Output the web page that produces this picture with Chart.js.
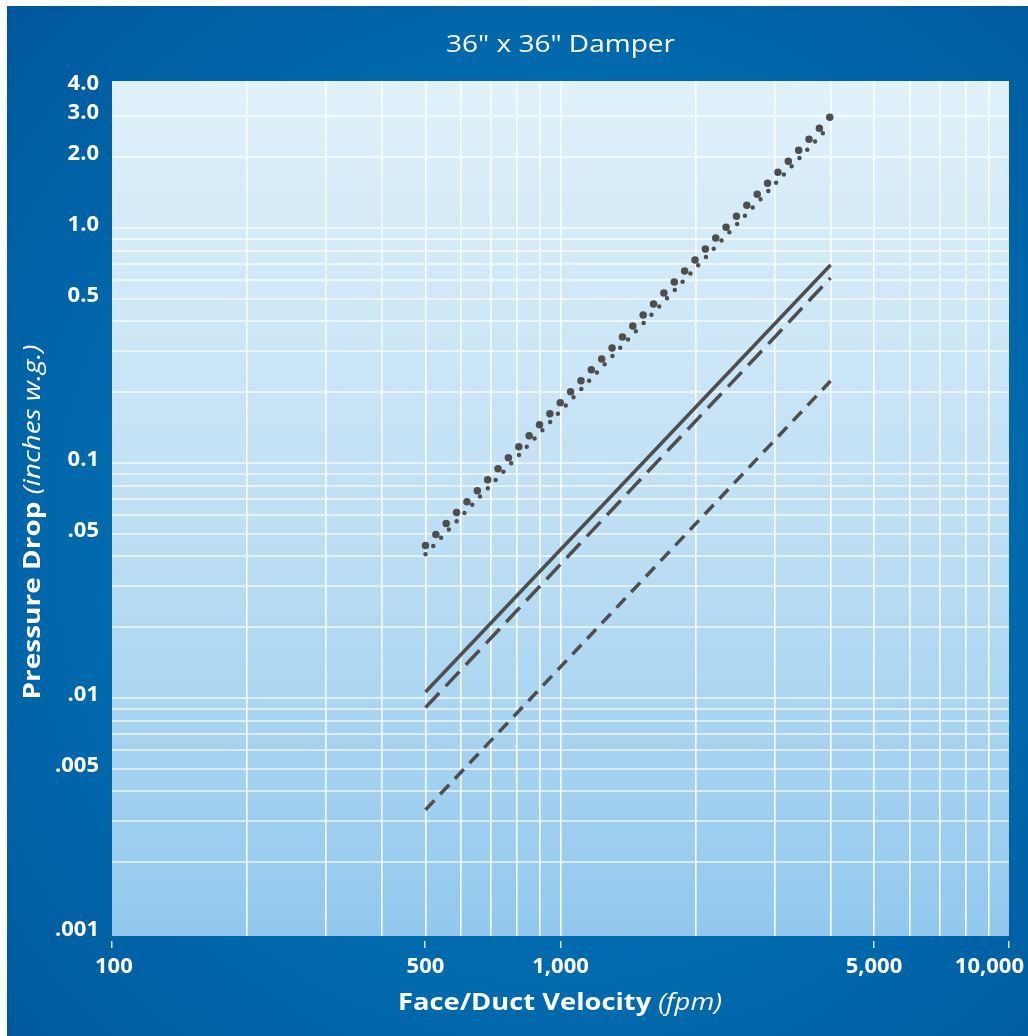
<!DOCTYPE html>
<html>
<head>
<meta charset="utf-8">
<title>36" x 36" Damper</title>
<script src="https://cdn.jsdelivr.net/npm/chart.js@4.4.0/dist/chart.umd.min.js"></script>
<style>
  html, body { margin: 0; padding: 0; background: #fff; }
  #wrap { width: 1028px; height: 1036px; }
</style>
</head>
<body>
<div id="wrap"><canvas id="graph" width="1028" height="1036"></canvas></div>
<script>
// values (fpm vs inches w.g.)
const velocity = [500, 4000];
const bigDotDrop = [0.0445, 2.98];
const smallDotDrop = [0.0409, 2.74];
const solidDrop = [0.0106, 0.696];
const longDashDrop = [0.0091, 0.613];
const shortDashDrop = [0.00334, 0.223];

// axis ticks / gridlines
const xGridValues = [200, 300, 400, 500, 600, 700, 800, 900,
  1000, 2000, 3000, 4000, 5000, 6000, 7000, 8000, 9000];
const xLabelValues = [100, 500, 1000, 5000, 10000];
const xLabelText = ['100', '500', '1,000', '5,000', '10,000'];

const yGridValues = [0.002, 0.003, 0.004, 0.005, 0.006, 0.007, 0.008, 0.009,
  0.01, 0.02, 0.03, 0.04, 0.05, 0.06, 0.07, 0.08, 0.09,
  0.1, 0.2, 0.3, 0.4, 0.5, 0.6, 0.7, 0.8, 0.9,
  1, 2, 3];
const yLabelValues = [4, 3, 2, 1, 0.5, 0.1, 0.05, 0.01, 0.005, 0.001];
const yLabelText = ['4.0', '3.0', '2.0', '1.0', '0.5', '0.1', '.05', '.01', '.005', '.001'];

const FONT = '"Open Sans", Lato, sans-serif';
const lineGrey = '#4e4e4e';

function toXY(ys) {
  return velocity.map((v, i) => ({ x: v, y: ys[i] }));
}

// draw text centred on cx, squeezed/stretched to a target width
function fitText(ctx, parts, cx, cy, width) {
  let total = 0;
  parts.forEach(p => { ctx.font = p.font; p.w = ctx.measureText(p.text).width; total += p.w; });
  const k = width / total;
  ctx.save();
  ctx.translate(cx - width / 2, cy);
  ctx.scale(k, 1);
  let sx = 0;
  parts.forEach(p => { ctx.font = p.font; ctx.fillText(p.text, sx, 0); sx += p.w; });
  ctx.restore();
}

const backdrop = {
  id: 'backdrop',
  beforeDraw(chart) {
    const { ctx, chartArea: a } = chart;
    ctx.save();
    ctx.fillStyle = '#fff';
    ctx.fillRect(0, 0, chart.width, chart.height);

    const g = ctx.createRadialGradient(560, 540, 0, 560, 540, 800);
    g.addColorStop(0, '#0a78bd');
    g.addColorStop(0.62, '#0068ab');
    g.addColorStop(1, '#00559a');
    ctx.fillStyle = g;
    ctx.fillRect(7, 6, chart.width - 7, chart.height - 6);

    const pg = ctx.createLinearGradient(0, a.top, 0, a.bottom);
    pg.addColorStop(0, '#e0f1fa');
    pg.addColorStop(0.5, '#c0e0f5');
    pg.addColorStop(1, '#92c8ed');
    ctx.fillStyle = pg;
    ctx.fillRect(a.left, a.top, a.right - a.left, a.bottom - a.top);
    ctx.restore();
  }
};

const labels = {
  id: 'labels',
  afterDraw(chart) {
    const { ctx, chartArea: a, scales: { x, y } } = chart;
    ctx.save();
    ctx.fillStyle = '#fff';
    ctx.textAlign = 'left';
    ctx.textBaseline = 'middle';

    // title
    fitText(ctx, [{ text: '36" x 36" Damper', font: '23px ' + FONT }], 560.5, 45, 229);

    // y tick labels
    ctx.font = 'bold 22px ' + FONT;
    ctx.textAlign = 'right';
    yLabelValues.forEach((v, i) => {
      ctx.fillText(yLabelText[i], 99, y.getPixelForValue(v) - 3);
    });

    // x tick labels + small marks
    ctx.textAlign = 'left';
    xLabelValues.forEach((v, i) => {
      const px = x.getPixelForValue(v);
      const w = ctx.measureText(xLabelText[i]).width;
      let left = Math.min(Math.max(px - w / 2, 95), 1024 - w);
      ctx.fillText(xLabelText[i], left, 967);
      ctx.fillStyle = '#cfe5f4';
      ctx.fillRect(Math.round(px) - 1, a.bottom + 5, 1.5, 7);
      ctx.fillStyle = '#fff';
    });

    // x axis title
    fitText(ctx, [
      { text: 'Face/Duct Velocity ', font: 'bold 24px ' + FONT },
      { text: '(fpm)', font: 'italic 24px ' + FONT }
    ], 560, 1003, 324);

    // y axis title (rotated)
    ctx.translate(33, 522);
    ctx.rotate(-Math.PI / 2);
    fitText(ctx, [
      { text: 'Pressure Drop ', font: 'bold 24px ' + FONT },
      { text: '(inches w.g.)', font: 'italic 24px ' + FONT }
    ], 0, 0, 355);
    ctx.restore();
  }
};

new Chart(document.getElementById('graph'), {
  type: 'line',
  data: {
    datasets: [{
      label: 'big dots',
      data: toXY(bigDotDrop),
      borderColor: lineGrey,
      borderWidth: 7.5,
      borderDash: [0, 15.1],
      borderCapStyle: 'round',
      pointRadius: 0
    }, {
      label: 'small dots',
      data: toXY(smallDotDrop),
      borderColor: lineGrey,
      borderWidth: 4.5,
      borderDash: [0, 11.35],
      borderCapStyle: 'round',
      pointRadius: 0
    }, {
      label: 'solid',
      data: toXY(solidDrop),
      borderColor: lineGrey,
      borderWidth: 3.5,
      pointRadius: 0
    }, {
      label: 'long dash',
      data: toXY(longDashDrop),
      borderColor: lineGrey,
      borderWidth: 3.5,
      borderDash: [20, 9.4],
      borderCapStyle: 'butt',
      pointRadius: 0
    }, {
      label: 'short dash',
      data: toXY(shortDashDrop),
      borderColor: lineGrey,
      borderWidth: 3.5,
      borderDash: [13, 8.4],
      borderCapStyle: 'butt',
      pointRadius: 0
    }]
  },
  options: {
    responsive: false,
    animation: false,
    layout: { padding: { top: 81, right: 19, left: 0, bottom: 0 } },
    plugins: {
      legend: { display: false },
      tooltip: { enabled: false },
      title: { display: false }
    },
    scales: {
      x: {
        type: 'logarithmic',
        min: 100,
        max: 10000,
        border: { display: false },
        ticks: { display: false },
        grid: { color: 'rgba(255,255,255,0.92)', lineWidth: 1.6, drawTicks: false },
        afterBuildTicks: (scale) => { scale.ticks = xGridValues.map(v => ({ value: v })); },
        afterFit: (scale) => { scale.height = 100; }
      },
      y: {
        type: 'logarithmic',
        min: 0.00097,
        max: 4.22,
        border: { display: false },
        ticks: { display: false },
        grid: { color: 'rgba(255,255,255,0.6)', lineWidth: 2, drawTicks: false },
        afterBuildTicks: (scale) => { scale.ticks = yGridValues.map(v => ({ value: v })); },
        afterFit: (scale) => { scale.width = 112; }
      }
    }
  },
  plugins: [backdrop, labels]
});
</script>
</body>
</html>
